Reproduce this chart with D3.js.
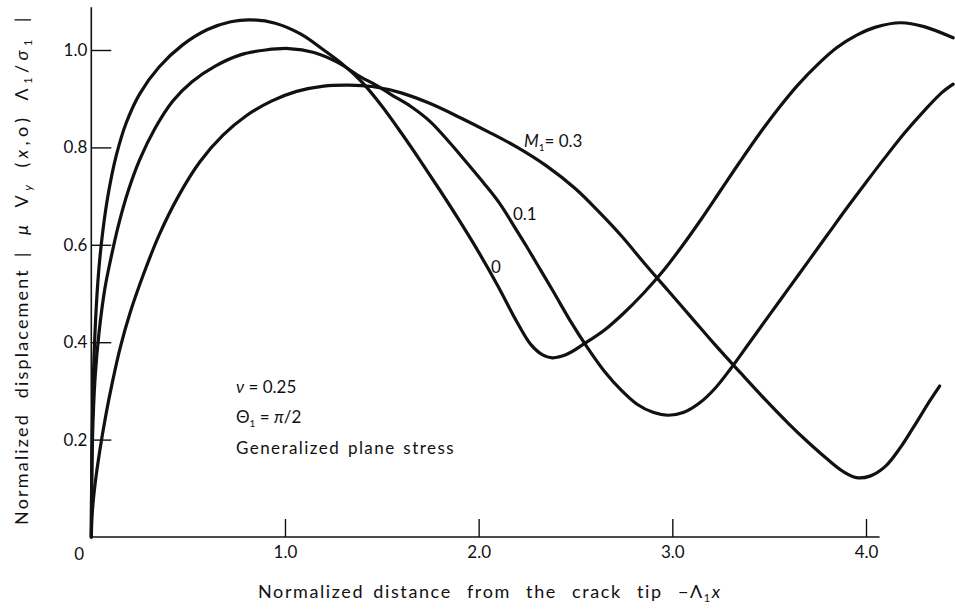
<!DOCTYPE html>
<html>
<head>
<meta charset="utf-8">
<script src="https://cdn.jsdelivr.net/npm/d3@7"></script>
<style>
  html, body { margin: 0; padding: 0; background: #fff; }
  svg { display: block; }
  text { font-family: Lato, "Noto Sans", sans-serif; fill: #111; }
</style>
</head>
<body>
<svg id="chart" width="955" height="614"></svg>
<script>
// Normalized displacement |mu v_y(x,0) Lambda_1 / sigma_1| against -Lambda_1 x
const machNumbers = ["0", "0.1", "0.3"];

const curveM0 = [
  [0, 0], [0.004, 0.2], [0.015, 0.38], [0.035, 0.53], [0.06, 0.63], [0.09, 0.71],
  [0.13, 0.785], [0.18, 0.85], [0.25, 0.91], [0.35, 0.965], [0.47, 1.01],
  [0.6, 1.042], [0.72, 1.058], [0.82, 1.062], [0.95, 1.055], [1.08, 1.033],
  [1.2, 1.0], [1.3, 0.97], [1.4, 0.933], [1.5, 0.885], [1.6, 0.83], [1.7, 0.772],
  [1.8, 0.712], [1.9, 0.65], [2.0, 0.585], [2.1, 0.515], [2.2, 0.44],
  [2.27, 0.395], [2.33, 0.374], [2.38, 0.368], [2.45, 0.374], [2.55, 0.398],
  [2.65, 0.425], [2.75, 0.46], [2.85, 0.5], [2.95, 0.545], [3.05, 0.597],
  [3.15, 0.653], [3.25, 0.712], [3.35, 0.771], [3.45, 0.828], [3.55, 0.881],
  [3.65, 0.929], [3.75, 0.97], [3.85, 1.005], [3.95, 1.03], [4.05, 1.047],
  [4.18, 1.056], [4.3, 1.048], [4.45, 1.025]
];

const curveM01 = [
  [0, 0], [0.006, 0.2], [0.02, 0.33], [0.04, 0.42], [0.07, 0.51], [0.1, 0.57],
  [0.14, 0.64], [0.19, 0.71], [0.25, 0.775], [0.33, 0.84], [0.42, 0.895],
  [0.52, 0.935], [0.64, 0.967], [0.77, 0.99], [0.9, 1.0], [1.02, 1.003],
  [1.15, 0.995], [1.27, 0.975], [1.39, 0.945], [1.47, 0.928], [1.55, 0.908],
  [1.65, 0.884], [1.75, 0.853], [1.85, 0.81], [1.94, 0.768], [2.03, 0.725],
  [2.11, 0.684], [2.18, 0.64], [2.25, 0.595], [2.32, 0.548], [2.39, 0.501],
  [2.47, 0.446], [2.56, 0.39], [2.65, 0.34], [2.74, 0.3], [2.82, 0.272],
  [2.9, 0.256], [2.98, 0.25], [3.06, 0.256], [3.14, 0.275], [3.22, 0.305],
  [3.3, 0.345], [3.4, 0.4], [3.5, 0.455], [3.6, 0.51], [3.7, 0.565],
  [3.8, 0.62], [3.9, 0.675], [4.0, 0.728], [4.1, 0.78], [4.2, 0.83],
  [4.3, 0.875], [4.39, 0.912], [4.45, 0.93]
];

const curveM03 = [
  [0, 0], [0.005, 0.05], [0.02, 0.11], [0.045, 0.18], [0.075, 0.25], [0.11, 0.32],
  [0.15, 0.39], [0.2, 0.46], [0.27, 0.54], [0.35, 0.62], [0.45, 0.7],
  [0.56, 0.77], [0.68, 0.825], [0.8, 0.865], [0.93, 0.895], [1.06, 0.915],
  [1.2, 0.926], [1.33, 0.928], [1.45, 0.925], [1.6, 0.912], [1.75, 0.89],
  [1.9, 0.862], [2.05, 0.832], [2.2, 0.8], [2.35, 0.762], [2.5, 0.715],
  [2.62, 0.668], [2.74, 0.617], [2.86, 0.56], [2.98, 0.505], [3.1, 0.45],
  [3.22, 0.395], [3.35, 0.338], [3.48, 0.282], [3.6, 0.233], [3.7, 0.195],
  [3.8, 0.16], [3.88, 0.135], [3.95, 0.122], [4.02, 0.125], [4.1, 0.145],
  [4.18, 0.185], [4.26, 0.235], [4.33, 0.28], [4.38, 0.31]
];

const xTicks = [1.0, 2.0, 3.0, 4.0];
const yTicks = [0.2, 0.4, 0.6, 0.8, 1.0];

const svg = d3.select("#chart");

const x = d3.scaleLinear().domain([0, 4.0]).range([91.3, 866]);
const y = d3.scaleLinear().domain([0, 1.0]).range([537, 50]);

// Fit a label to a width: fixed extra gap between words, the rest shared between letters
function fitText(sel, width, wordGap) {
  sel.attr("word-spacing", wordGap).attr("letter-spacing", 0);
  const node = sel.node();
  const natural = node.getComputedTextLength();
  const n = node.textContent.length;
  if (n > 1) sel.attr("letter-spacing", Math.max(0, (width - natural) / n));
}

// Open left/bottom axis lines
svg.append("line")
  .attr("x1", x(0)).attr("x2", x(4.07))
  .attr("y1", y(0)).attr("y2", y(0))
  .attr("stroke", "#111").attr("stroke-width", 1.6);
svg.append("line")
  .attr("x1", x(0)).attr("x2", x(0))
  .attr("y1", y(0)).attr("y2", y(1.088))
  .attr("stroke", "#111").attr("stroke-width", 1.6);

// Inward ticks
const xAxis = d3.axisBottom(x).tickValues(xTicks).tickSizeInner(-18).tickSizeOuter(0)
  .tickPadding(9).tickFormat(d3.format(".1f"));
const gx = svg.append("g").attr("transform", `translate(0,${y(0)})`).call(xAxis);
gx.select(".domain").remove();
gx.selectAll(".tick line").attr("stroke", "#111").attr("stroke-width", 1.4);
gx.selectAll(".tick text").attr("font-size", 17).attr("fill", "#111")
  .attr("font-family", "Lato, sans-serif");

const yAxis = d3.axisLeft(y).tickValues(yTicks).tickSizeInner(-20).tickSizeOuter(0)
  .tickPadding(4).tickFormat(d3.format(".1f"));
const gy = svg.append("g").attr("transform", `translate(${x(0)},0)`).call(yAxis);
gy.select(".domain").remove();
gy.selectAll(".tick line").attr("stroke", "#111").attr("stroke-width", 1.4);
gy.selectAll(".tick text").attr("font-size", 17).attr("fill", "#111")
  .attr("font-family", "Lato, sans-serif");

// Shared origin label
svg.append("text").attr("x", x(0) - 12).attr("y", y(0) + 23)
  .attr("text-anchor", "middle").attr("font-size", 17).text("0");

// Curves
const line = d3.line()
  .x(d => x(d[0])).y(d => y(d[1]))
  .curve(d3.curveCatmullRom.alpha(0.5));

[curveM0, curveM01, curveM03].forEach(data => {
  svg.append("path").datum(data)
    .attr("d", line)
    .attr("fill", "none")
    .attr("stroke", "#111")
    .attr("stroke-width", 3.2)
    .attr("stroke-linejoin", "round")
    .attr("stroke-linecap", "round");
});

// Curve labels
const lab03 = svg.append("text").attr("x", 524).attr("y", 147).attr("font-size", 17);
lab03.append("tspan").attr("font-style", "italic").text("M");
lab03.append("tspan").attr("font-size", 10).attr("dy", 4).text("1");
lab03.append("tspan").attr("dy", -4).text("= " + machNumbers[2]);

svg.append("text").attr("x", 513).attr("y", 220).attr("font-size", 17).text(machNumbers[1]);
svg.append("text").attr("x", 491).attr("y", 273).attr("font-size", 17).text(machNumbers[0]);

// Parameter notes
svg.append("text").attr("x", 236).attr("y", 393).attr("font-size", 17)
  .html('<tspan font-style="italic">ν</tspan> = 0.25');
const theta = svg.append("text").attr("x", 236).attr("y", 423).attr("font-size", 17);
theta.append("tspan").text("Θ");
theta.append("tspan").attr("font-size", 10).attr("dy", 4).text("1");
theta.append("tspan").attr("dy", -4).text(" = ");
theta.append("tspan").attr("font-style", "italic").text("π");
theta.append("tspan").text("/2");
const gps = svg.append("text").attr("x", 236).attr("y", 454).attr("font-size", 17)
  .text("Generalized plane stress");
fitText(gps, 219, 2);

// X axis title
const xt = svg.append("text").attr("x", 258).attr("y", 598).attr("font-size", 18);
xt.append("tspan").text("Normalized distance");
xt.append("tspan").attr("word-spacing", 9).text(" from the crack tip −Λ");
xt.append("tspan").attr("font-size", 11).attr("dy", 4).text("1");
xt.append("tspan").attr("dy", -4).attr("font-style", "italic").text("x");
fitText(xt, 464, 3);

// Y axis title: words, then the normalized quantity
const yt1 = svg.append("text")
  .attr("transform", "translate(28,525) rotate(-90)")
  .attr("font-size", 18)
  .text("Normalized displacement");
fitText(yt1, 257, 8);

const yt2 = svg.append("text")
  .attr("transform", "translate(28,257) rotate(-90)")
  .attr("font-size", 18);
yt2.append("tspan").text("| ");
yt2.append("tspan").attr("font-style", "italic").text("μ");
yt2.append("tspan").text(" V");
yt2.append("tspan").attr("font-style", "italic").attr("font-size", 12).attr("dy", 4).text("y");
yt2.append("tspan").attr("dy", -4).text(" (");
yt2.append("tspan").attr("font-style", "italic").text("x");
yt2.append("tspan").text(",o) Λ");
yt2.append("tspan").attr("font-size", 11).attr("dy", 4).text("1");
yt2.append("tspan").attr("dy", -4).text("/");
yt2.append("tspan").attr("font-style", "italic").text("σ");
yt2.append("tspan").attr("font-size", 11).attr("dy", 4).text("1");
yt2.append("tspan").attr("dy", -4).text(" |");
fitText(yt2, 244, 4);
</script>
</body>
</html>
